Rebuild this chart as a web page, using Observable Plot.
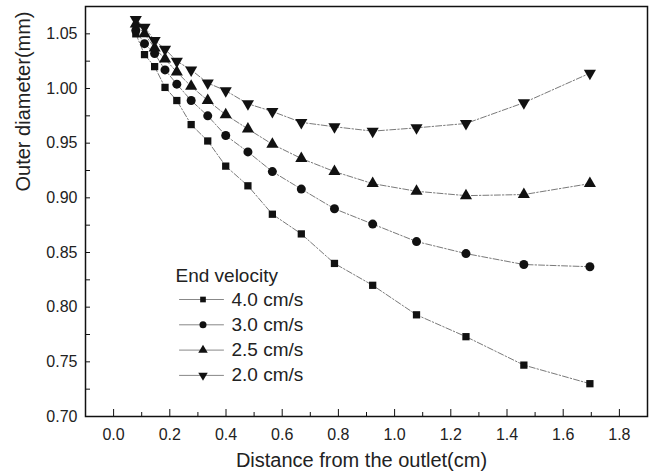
<!DOCTYPE html>
<html>
<head>
<meta charset="utf-8">
<script src="https://cdn.jsdelivr.net/npm/d3@7"></script>
<script src="https://cdn.jsdelivr.net/npm/@observablehq/plot@0.6"></script>
<style>
  html, body { margin: 0; padding: 0; background: #fff; }
</style>
</head>
<body>
<div id="chart"></div>
<script>
// ---- data ----
const distance = [0.079, 0.110, 0.146, 0.183, 0.225, 0.276, 0.335, 0.399, 0.478, 0.565, 0.668, 0.786, 0.922, 1.078, 1.254, 1.460, 1.695];
const seriesNames = ["4.0 cm/s", "3.0 cm/s", "2.5 cm/s", "2.0 cm/s"];
const v40 = [1.050, 1.031, 1.020, 1.001, 0.989, 0.967, 0.952, 0.929, 0.911, 0.885, 0.867, 0.840, 0.820, 0.793, 0.773, 0.747, 0.730];
const v30 = [1.053, 1.041, 1.032, 1.017, 1.004, 0.989, 0.975, 0.957, 0.942, 0.924, 0.908, 0.890, 0.876, 0.860, 0.849, 0.839, 0.837];
const v25 = [1.059, 1.050, 1.037, 1.027, 1.015, 1.002, 0.989, 0.976, 0.963, 0.949, 0.936, 0.924, 0.913, 0.906, 0.902, 0.903, 0.913];
const v20 = [1.063, 1.056, 1.044, 1.036, 1.025, 1.017, 1.005, 0.998, 0.986, 0.979, 0.969, 0.965, 0.961, 0.964, 0.968, 0.987, 1.014];
const xMajor = [0, 0.2, 0.4, 0.6, 0.8, 1.0, 1.2, 1.4, 1.6, 1.8];
const xMinor = [0.1, 0.3, 0.5, 0.7, 0.9, 1.1, 1.3, 1.5, 1.7];
const yMajor = [0.70, 0.75, 0.80, 0.85, 0.90, 0.95, 1.00, 1.05];
const yMinor = [0.725, 0.775, 0.825, 0.875, 0.925, 0.975, 1.025];
const legendTitle = "End velocity";
const xTitle = "Distance from the outlet(cm)";
const yTitle = "Outer diameter(mm)";

// ---- symbols ----
const triangleDown = {
  draw(ctx, size) {
    const y = Math.sqrt(size / (Math.sqrt(3) * 3));
    ctx.moveTo(0, y * 2);
    ctx.lineTo(-Math.sqrt(3) * y, -y);
    ctx.lineTo(Math.sqrt(3) * y, -y);
    ctx.closePath();
  }
};
const symbols = ["square", "circle", "triangle", triangleDown];
const radii = [4.1, 4.5, 4.5, 4.5];
const values = [v40, v30, v25, v20];

const table = seriesNames.map((name, s) =>
  distance.map((d, i) => ({series: name, x: d, y: values[s][i]}))
);

const segShape = {
  draw(ctx, l) { ctx.moveTo(0, 0); ctx.lineTo(0, -l); }
};

const marks = [];
table.forEach((rows, s) => {
  marks.push(Plot.line(rows, {x: "x", y: "y", stroke: "#6a6a6a", strokeWidth: 0.9, strokeDasharray: "6,2,1.5,2"}));
});
table.forEach((rows, s) => {
  marks.push(Plot.dot(rows, {x: "x", y: "y", symbol: () => symbols[s], r: radii[s], fill: "#111", stroke: "none"}));
});

// axes (inward ticks)
marks.push(
  Plot.axisX(xMajor, {tickSize: -7, tickFormat: () => "", label: null, stroke: "#111"}),
  Plot.axisX(xMinor, {tickSize: -4, tickFormat: () => "", label: null, stroke: "#111"}),
  Plot.axisX(xMajor, {tickSize: 0, tickPadding: 12, tickFormat: d3.format(".1f"), label: null, fill: "#222"}),
  Plot.axisY(yMajor, {tickSize: -5, tickFormat: () => "", label: null, stroke: "#111"}),
  Plot.axisY(yMinor, {tickSize: -5, tickFormat: () => "", label: null, stroke: "#111"}),
  Plot.axisY(yMajor, {tickSize: 0, tickPadding: 8, tickFormat: d3.format(".2f"), label: null, fill: "#222"}),
  Plot.frame({stroke: "#111", strokeWidth: 1.5})
);

// axis titles
marks.push(
  Plot.text([xTitle], {frameAnchor: "bottom", dx: -5, dy: 44, fontSize: 20, fill: "#222", lineAnchor: "middle"}),
  Plot.text([yTitle], {frameAnchor: "left", dx: -62, dy: -20, rotate: -90, fontSize: 20, fill: "#222", lineAnchor: "middle"})
);

// legend inside the plot
marks.push(Plot.text([legendTitle], {frameAnchor: "top-left", dx: 90, dy: 269, textAnchor: "start", lineAnchor: "middle", fontSize: 19, fill: "#222"}));
seriesNames.forEach((name, s) => {
  const dy = 293 + 25.3 * s;
  marks.push(
    Plot.vector([name], {frameAnchor: "top-left", dx: 116, dy, length: 44, rotate: 90, anchor: "middle", shape: segShape, stroke: "#888", strokeWidth: 1}),
    Plot.dot([name], {frameAnchor: "top-left", dx: 117.5, dy, symbol: () => symbols[s], r: radii[s] * 0.78, fill: "#111", stroke: "none"}),
    Plot.text([name], {frameAnchor: "top-left", dx: 146, dy, text: d => d, textAnchor: "start", lineAnchor: "middle", fontSize: 19, fill: "#222"})
  );
});

const chart = Plot.plot({
  width: 650,
  height: 476,
  marginLeft: 85,
  marginRight: 3,
  marginTop: 6,
  marginBottom: 60,
  style: {fontFamily: "'Liberation Sans', Arial, sans-serif", fontSize: "16px", background: "#fff", color: "#222"},
  x: {domain: [-0.1, 1.9]},
  y: {domain: [0.70, 1.075]},
  symbol: {type: "identity"},
  marks
});
document.getElementById("chart").appendChild(chart);
</script>
</body>
</html>
